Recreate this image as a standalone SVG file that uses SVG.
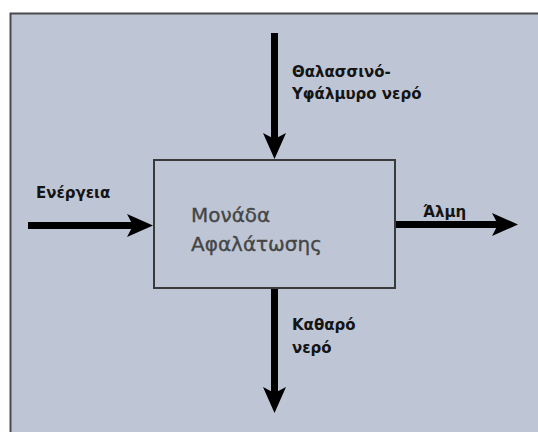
<svg xmlns="http://www.w3.org/2000/svg" width="538" height="432" viewBox="0 0 538 432">
<style>
.lbl{font-family:"DejaVu Sans","Noto Sans",sans-serif;font-weight:bold;font-size:15px;fill:#141414}
.box-t{font-family:"DejaVu Sans","Noto Sans",sans-serif;font-size:20px;fill:#454545;stroke:#454545;stroke-width:0.35}
.conn{stroke:#000;stroke-width:7;fill:none}
</style>
<defs>
<marker id="ah" markerUnits="userSpaceOnUse" markerWidth="28" markerHeight="24" viewBox="0 -12 28 24" refX="6" refY="0" orient="auto">
<path d="M0,-11.5 L26,0 L0,11.5 L6,0 Z" fill="#000"/>
</marker>
</defs>
<rect x="0" y="0" width="538" height="432" fill="#ffffff"/>
<rect id="frame" x="10.5" y="13.5" width="600" height="500" fill="#bec5d5" stroke="#4a4a4a" stroke-width="2"/>
<g id="connectors">
<line class="conn" x1="274.5" y1="33" x2="274.5" y2="139" marker-end="url(#ah)"/>
<line class="conn" x1="28" y1="225.5" x2="133" y2="225.5" marker-end="url(#ah)"/>
<line class="conn" x1="395" y1="224.5" x2="498" y2="224.5" marker-end="url(#ah)"/>
<line class="conn" x1="274.5" y1="289" x2="274.5" y2="393" marker-end="url(#ah)"/>
</g>
<g id="unit">
<rect x="154" y="160" width="241" height="128" fill="#bec5d5" stroke="#3a3a3a" stroke-width="2"/>
<text class="box-t" x="191" y="222">Μονάδα</text>
<text class="box-t" x="191" y="251">Αφαλάτωσης</text>
</g>
<g id="input-water">
<text class="lbl" x="292" y="77">Θαλασσινό-</text>
<text class="lbl" x="292" y="99">Υφάλμυρο νερό</text>
</g>
<g id="input-energy">
<text class="lbl" x="36" y="198">Ενέργεια</text>
</g>
<g id="output-brine">
<text class="lbl" x="423" y="217">Άλμη</text>
</g>
<g id="output-water">
<text class="lbl" x="292" y="330">Καθαρό</text>
<text class="lbl" x="292" y="353">νερό</text>
</g>
</svg>
